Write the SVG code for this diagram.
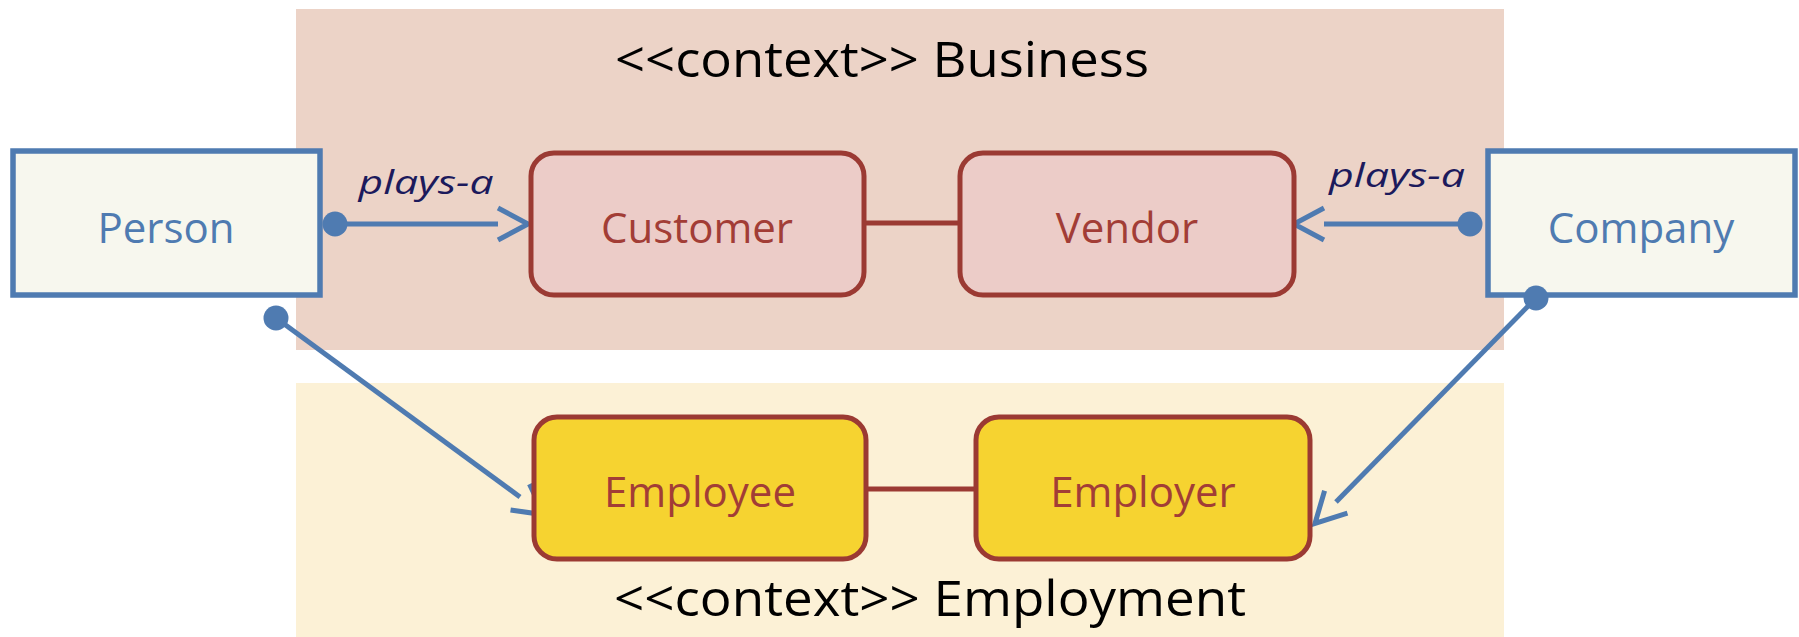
<svg xmlns="http://www.w3.org/2000/svg" width="1799" height="637" viewBox="0 0 1799 637">
<style>
.ctx{font-family:"Open Sans","Noto Sans","Liberation Sans",sans-serif;font-size:50px;fill:#000;text-anchor:middle}
.ent{fill:#f7f7ee;stroke:#4f7bb1;stroke-width:5.5}
.entt{font-family:"Open Sans","Noto Sans","Liberation Sans",sans-serif;font-size:42px;fill:#4f7bb1;text-anchor:middle}
.role{stroke:#9b3a33;stroke-width:5}
.roleb{fill:#ecccc8}
.rolee{fill:#f6d330}
.rolet{font-family:"Open Sans","Noto Sans","Liberation Sans",sans-serif;font-size:42px;fill:#a23d36;text-anchor:middle}
.conn{stroke:#4f7bb1;stroke-width:5;fill:none}
.dot{fill:#4f7bb1}
.lbl{font-family:"Open Sans","Noto Sans","Liberation Sans",sans-serif;font-size:33px;font-style:italic;fill:#1c1a5c;text-anchor:middle}
.assoc{stroke:#9b3a33;stroke-width:5}
</style>
<defs>
<marker id="open" markerUnits="userSpaceOnUse" markerWidth="40" markerHeight="40" viewBox="-3 -20 36 40" refX="0" refY="0" orient="auto" overflow="visible">
<path d="M0,-16 L30,0 L0,16" fill="none" stroke="#4f7bb1" stroke-width="5"/>
</marker>
</defs>
<g id="context-business">
<rect x="296" y="9" width="1208" height="341" fill="#ecd3c7"/>
<text class="ctx" x="882" y="77" textLength="534" lengthAdjust="spacingAndGlyphs">&lt;&lt;context&gt;&gt; Business</text>
</g>
<g id="context-employment">
<rect x="296" y="383" width="1208" height="254" fill="#fcf1d6"/>
<text class="ctx" x="930" y="616" textLength="632" lengthAdjust="spacingAndGlyphs">&lt;&lt;context&gt;&gt; Employment</text>
</g>
<g id="person">
<rect class="ent" x="13" y="151" width="307" height="144"/>
<text class="entt" x="166" y="243">Person</text>
</g>
<g id="company">
<rect class="ent" x="1488" y="151" width="307" height="144"/>
<text class="entt" x="1641" y="243">Company</text>
</g>
<g id="connectors">
<line class="assoc" x1="864" y1="223" x2="960" y2="223"/>
<line class="assoc" x1="866" y1="489" x2="976" y2="489"/>
<line class="conn" x1="335" y1="224" x2="498" y2="224" marker-end="url(#open)"/>
<circle class="dot" cx="335" cy="224" r="12.5"/>
<text class="lbl" x="426" y="194" textLength="135" lengthAdjust="spacingAndGlyphs">plays-a</text>
<line class="conn" x1="1470" y1="224" x2="1324" y2="224" marker-end="url(#open)"/>
<circle class="dot" cx="1470" cy="224" r="12.5"/>
<text class="lbl" x="1397" y="187" textLength="136" lengthAdjust="spacingAndGlyphs">plays-a</text>
<line class="conn" x1="276" y1="318" x2="520" y2="497" marker-end="url(#open)"/>
<circle class="dot" cx="276" cy="318" r="12.5"/>
<line class="conn" x1="1536" y1="298" x2="1336" y2="502" marker-end="url(#open)"/>
<circle class="dot" cx="1536" cy="298" r="12.5"/>
</g>
<g id="customer">
<rect class="role roleb" x="531" y="153" width="333" height="142" rx="23"/>
<text class="rolet" x="697" y="243">Customer</text>
</g>
<g id="vendor">
<rect class="role roleb" x="960" y="153" width="334" height="142" rx="23"/>
<text class="rolet" x="1127" y="243">Vendor</text>
</g>
<g id="employee">
<rect class="role rolee" x="534" y="417" width="332" height="142" rx="23"/>
<text class="rolet" x="700" y="507">Employee</text>
</g>
<g id="employer">
<rect class="role rolee" x="976" y="417" width="334" height="142" rx="23"/>
<text class="rolet" x="1143" y="507">Employer</text>
</g>
</svg>
